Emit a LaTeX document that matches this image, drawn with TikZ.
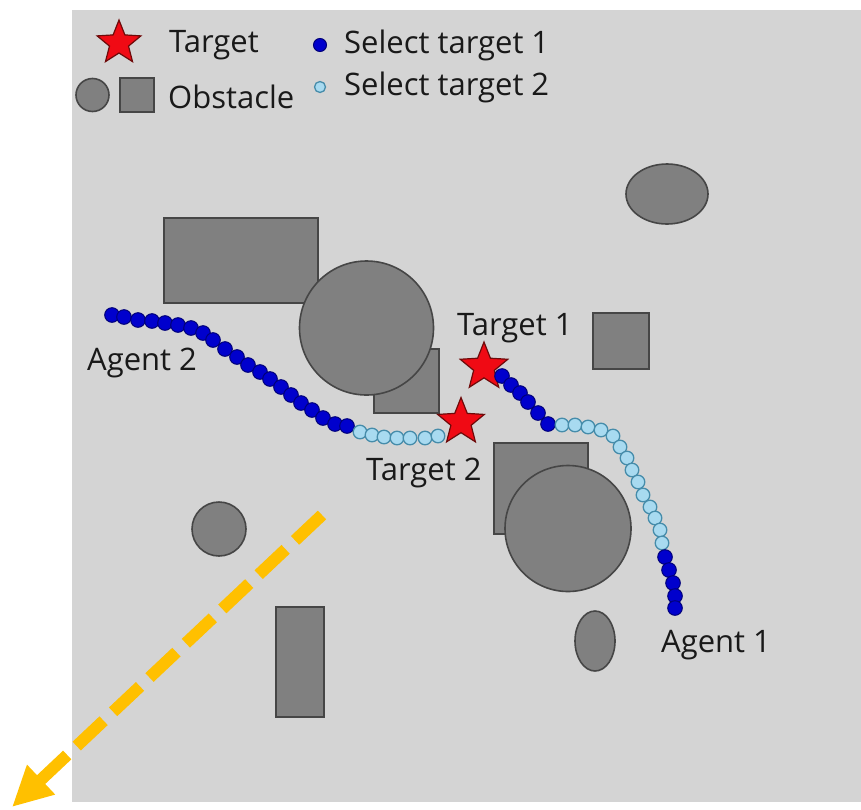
\documentclass[tikz,border=0pt]{standalone}
\usepackage{fontspec}
\setmainfont{Open Sans}
\usetikzlibrary{shapes.geometric,arrows.meta}

\definecolor{field}{RGB}{212,212,212}
\definecolor{obsfill}{RGB}{128,128,128}
\definecolor{obsline}{RGB}{70,70,70}
\definecolor{starfill}{RGB}{240,10,20}
\definecolor{starline}{RGB}{110,10,10}
\definecolor{darkdot}{RGB}{0,0,205}
\definecolor{darkdotline}{RGB}{0,0,120}
\definecolor{lightdot}{RGB}{168,218,240}
\definecolor{lightdotline}{RGB}{70,140,170}
\definecolor{arrowcol}{RGB}{255,192,0}
\definecolor{textcol}{RGB}{25,25,25}

\tikzset{
  obstacle/.style={fill=obsfill, draw=obsline, line width=1.6pt},
  targetstar/.style={star, star points=5, star point ratio=2.3,
    minimum size=#1, inner sep=0pt, fill=starfill, draw=starline, line width=1.2pt},
  lbl/.style={font=\fontsize{31}{37}\selectfont, text=textcol, inner sep=0pt, anchor=base west},
  seldark/.style={fill=darkdot, draw=darkdotline, line width=1pt},
  sellight/.style={fill=lightdot, draw=lightdotline, line width=1.3pt},
}

\begin{document}
\begin{tikzpicture}[x=1pt,y=-1pt]
\useasboundingbox (0,0) rectangle (861,809);

% environment
\fill[field] (72,10) rectangle (861,802);

% obstacles
\draw[obstacle] (164,218) rectangle (318,303);
\draw[obstacle] (374,349) rectangle (439,413);
\draw[obstacle] (366.5,328) circle[radius=67];
\draw[obstacle] (667,194) ellipse[x radius=41, y radius=30];
\draw[obstacle] (593,313) rectangle (649,369);
\draw[obstacle] (494,443) rectangle (588,534);
\draw[obstacle] (568,528.5) circle[radius=63];
\draw[obstacle] (595,641) ellipse[x radius=20, y radius=30];
\draw[obstacle] (219,529) circle[radius=27];
\draw[obstacle] (276,607) rectangle (324,717);

% legend
\node[targetstar=46pt] (legstar) at (119,43) {};
\node[lbl] (legtarget) at (169,52) {Target};
\draw[obstacle] (92.5,95) circle[radius=16.5];
\draw[obstacle] (120,78) rectangle (154,112);
\node[lbl] (legobstacle) at (168,108) {Obstacle};
\draw[seldark] (320,45) circle[radius=6.5];
\draw[sellight] (320,87) circle[radius=5.5];
\node[lbl] (legsel1) at (344,53) {Select target 1};
\node[lbl] (legsel2) at (344,95) {Select target 2};

% targets
\node[targetstar=50pt] (target1) at (484,367) {};
\node[targetstar=49pt] (target2) at (461,422) {};
\node[lbl] (target1lbl) at (457,335) {Target 1};
\node[lbl] (target2lbl) at (366,480) {Target 2};

% path of agent 2
\foreach \p in {(112,315),(124,317),(138,320),(152,321),(165,323),(178,325),
  (191,328),(203,333),(213,340),(225,349),(237,357),(248,365),(260,372),
  (270,379),(281,387),(291,395),(301,403),(312,410),(323,418),(335,424),(347,426)}
  \draw[seldark] \p circle[radius=7.3];
\foreach \p in {(360,432),(372,435),(384,437),(397,438),(410,438),(425,438),(438,436)}
  \draw[sellight] \p circle[radius=6.8];

% path of agent 1
\foreach \p in {(502,376),(511,385),(520,393),(528,402),(538,413),(548,424)}
  \draw[seldark] \p circle[radius=7.3];
\foreach \p in {(562,425),(575,425),(588,427),(601,430),(613,436),(620,447),
  (627,458),(632,470),(638,482),(643,495),(650,507),(655,518),(660,530),(662,543)}
  \draw[sellight] \p circle[radius=6.8];
\foreach \p in {(665,557),(669,570),(673,583),(675,596),(675,608)}
  \draw[seldark] \p circle[radius=7.3];

\node[lbl] (agent2) at (87,370) {Agent 2};
\node[lbl] (agent1) at (661,652) {Agent 1};

% outgoing direction
\coordinate (dirstart) at (322,515);
\coordinate (dirend) at (12,807);
\draw[arrowcol, line width=12pt, dash pattern=on 37pt off 13pt,
  -{Triangle[length=40pt,width=38pt]}] (dirstart) -- (dirend);
\end{tikzpicture}
\end{document}
